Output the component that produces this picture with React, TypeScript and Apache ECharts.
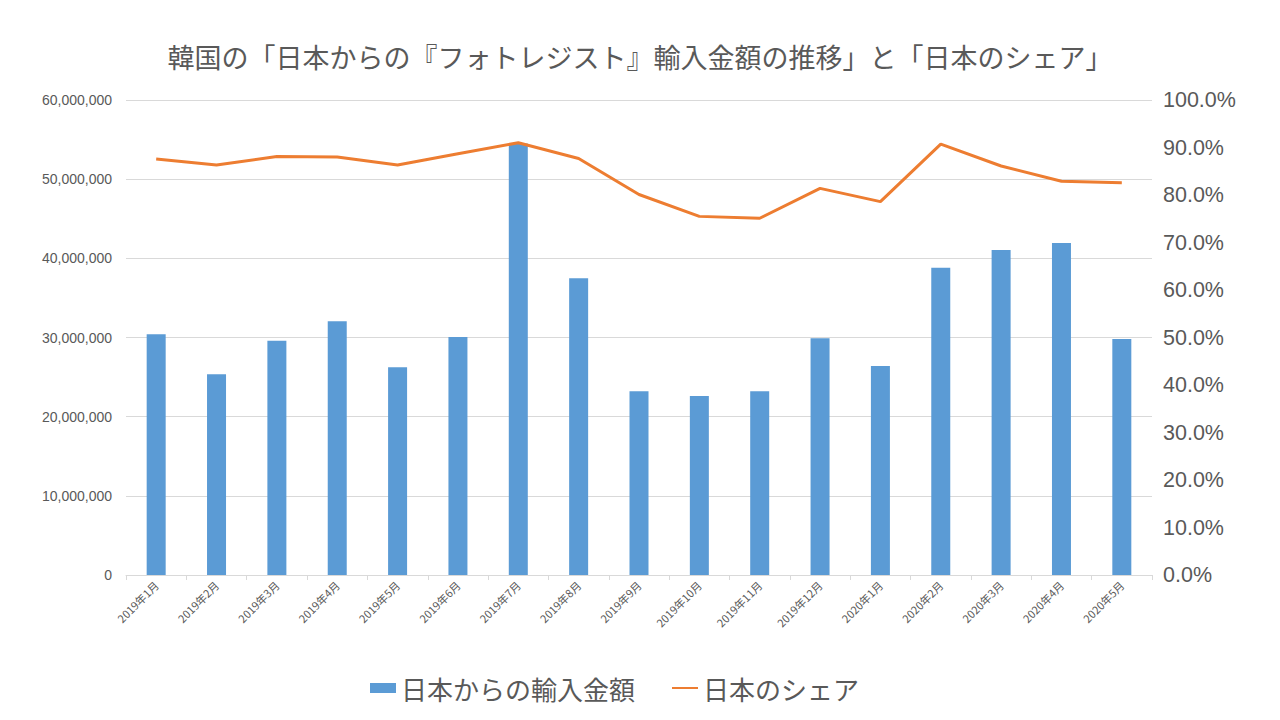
import React, { useEffect, useRef } from "react";
import * as echarts from "echarts";

const categories = [
  "2019年1月", "2019年2月", "2019年3月", "2019年4月", "2019年5月", "2019年6月",
  "2019年7月", "2019年8月", "2019年9月", "2019年10月", "2019年11月", "2019年12月",
  "2020年1月", "2020年2月", "2020年3月", "2020年4月", "2020年5月",
];

const importAmount = [
  30400000, 25350000, 29600000, 32050000, 26250000, 30050000,
  54500000, 37500000, 23200000, 22600000, 23200000, 29900000,
  26400000, 38800000, 41050000, 41950000, 29800000,
];

const japanShare = [
  87.6, 86.3, 88.1, 88.0, 86.3, 88.7,
  91.0, 87.7, 80.1, 75.5, 75.1, 81.4,
  78.6, 90.7, 86.1, 82.9, 82.6,
];

const TITLE = "韓国の「日本からの『フォトレジスト』輸入金額の推移」と「日本のシェア」";
const FONT = "'Noto Sans CJK JP', 'Noto Sans', sans-serif";
const TEXT = "#595959";

export default function App() {
  const ref = useRef<HTMLDivElement>(null);
  useEffect(() => {
    document.body.style.margin = "0";
    const chart = echarts.init(ref.current!, undefined, { renderer: "svg" });
    chart.setOption({
      animation: false,
      backgroundColor: "#ffffff",
      textStyle: { fontFamily: FONT },
      title: {
        text: TITLE,
        left: "center",
        top: 38,
        textStyle: { fontFamily: FONT, fontSize: 27, fontWeight: "normal", color: TEXT },
      },
      legend: {
        bottom: 14,
        left: 365,
        itemGap: 36,
        itemWidth: 26,
        itemHeight: 10,
        textStyle: { fontFamily: FONT, fontSize: 26, color: TEXT },
        data: [
          { name: "日本からの輸入金額", icon: "rect" },
          { name: "日本のシェア", itemStyle: { opacity: 0 } },
        ],
      },
      grid: { left: 126, right: 128, top: 100, bottom: 145 },
      xAxis: {
        type: "category",
        data: categories,
        boundaryGap: true,
        axisLine: { lineStyle: { color: "#D9D9D9" } },
        axisTick: { show: true, length: 5, alignWithLabel: false, lineStyle: { color: "#D9D9D9" } },
        axisLabel: { rotate: 45, fontSize: 11, color: TEXT, margin: 8, interval: 0, fontFamily: FONT },
      },
      yAxis: [
        {
          type: "value",
          min: 0,
          max: 60000000,
          interval: 10000000,
          axisLine: { show: false },
          axisTick: { show: false },
          splitLine: { lineStyle: { color: "#D9D9D9" } },
          axisLabel: {
            fontSize: 14,
            color: TEXT,
            margin: 14,
            fontFamily: "'Liberation Sans', sans-serif",
            formatter: (v: number) => v.toLocaleString("en-US"),
          },
        },
        {
          type: "value",
          min: 0,
          max: 100,
          interval: 10,
          position: "right",
          axisLine: { show: false },
          axisTick: { show: false },
          splitLine: { show: false },
          axisLabel: {
            fontSize: 21.5,
            color: TEXT,
            margin: 11,
            fontFamily: "'Liberation Sans', sans-serif",
            formatter: (v: number) => v.toFixed(1) + "%",
          },
        },
      ],
      series: [
        {
          name: "日本からの輸入金額",
          type: "bar",
          data: importAmount,
          barWidth: 19,
          itemStyle: { color: "#5B9BD5" },
          yAxisIndex: 0,
        },
        {
          name: "日本のシェア",
          type: "line",
          data: japanShare,
          yAxisIndex: 1,
          symbol: "none",
          showSymbol: false,
          lineStyle: { color: "#ED7D31", width: 3 },
          itemStyle: { color: "#ED7D31" },
        },
      ],
    });
    return () => chart.dispose();
  }, []);
  return <div ref={ref} style={{ width: 1280, height: 720 }} />;
}
